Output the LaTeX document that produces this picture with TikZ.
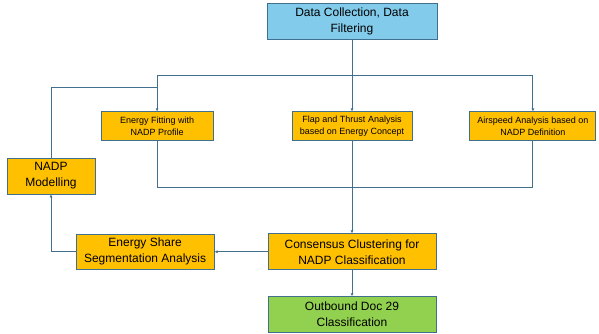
\documentclass[tikz,border=0pt]{standalone}
\usepackage{fontspec}
\setmainfont{Liberation Sans}
\usetikzlibrary{positioning, calc, arrows.meta}
\definecolor{colour_line}{HTML}{41708E}
\definecolor{colour_data}{HTML}{83CBEB}
\definecolor{colour_step}{HTML}{FFC000}
\definecolor{colour_out}{HTML}{92D050}

\begin{document}
\begin{tikzpicture}[
    x=1pt, y=-1pt,
    box/.style={rectangle, draw=colour_line, line width=0.9pt, inner sep=1pt,
                align=center, font=\fontsize{12}{16}\selectfont},
    bigbox/.style={box, minimum height=36pt},
    smallbox/.style={box, minimum height=29pt, font=\fontsize{9}{11.5}\selectfont},
    link/.style={draw=colour_line, line width=0.9pt},
    arrow/.style={link, -{Latex[length=3pt, width=3pt]}},
    data_style/.style={fill=colour_data},
    step_style/.style={fill=colour_step},
    out_style/.style={fill=colour_out}
]
\useasboundingbox (0,0) rectangle (599,333);

% Top of the flow
\node[bigbox, data_style, minimum width=170pt] (data) at (352,21)
     {Data Collection, Data\\Filtering};

% Three parallel analyses
\node[smallbox, step_style, minimum width=120pt, below=72pt of data] (flap)
     {Flap and Thrust Analysis\\based on Energy Concept};
\node[smallbox, step_style, minimum width=112pt, left=78pt of flap] (fit)
     {Energy Fitting with\\NADP Profile};
\node[smallbox, step_style, minimum width=126pt, right=57pt of flap] (air)
     {Airspeed Analysis based on\\NADP Definition};

% Clustering and results
\node[bigbox, step_style, minimum width=168pt, below=92pt of flap] (cons)
     {Consensus Clustering for\\NADP Classification};
\node[bigbox, out_style, minimum width=168pt, below=26pt of cons] (out)
     {Outbound Doc 29\\Classification};
\node[bigbox, step_style, minimum width=138pt, minimum height=35pt, left=53pt of cons] (share)
     {Energy Share\\Segmentation Analysis};
\node[bigbox, step_style, minimum width=88pt] (model) at (51,176)
     {NADP\\Modelling};

% Junction points
\coordinate (split) at ($(data.south)!0.5!(flap.north)$);
\coordinate (merge) at ($(flap.south)!0.5!(cons.north)$);
\coordinate (feed) at ($(split -| fit.north)!0.33!(fit.north)$);

% Connectors
\draw[link] (data.south) -- (split);
\draw[link] (split -| fit.north) -- (split -| air.north);
\foreach \n in {fit, flap, air}
    \draw[arrow] (split -| \n.north) -- (\n.north);
\draw[link] (model.north) |- (feed);
\draw[link] (fit.south) |- (merge -| air.south) -- (air.south);
\draw[arrow] (flap.south) -- (cons.north);
\draw[arrow] (cons.west) -- (share.east);
\draw[arrow] (share.west) -| (model.south);
\draw[arrow] (cons.south) -- (out.north);

\end{tikzpicture}
\end{document}
